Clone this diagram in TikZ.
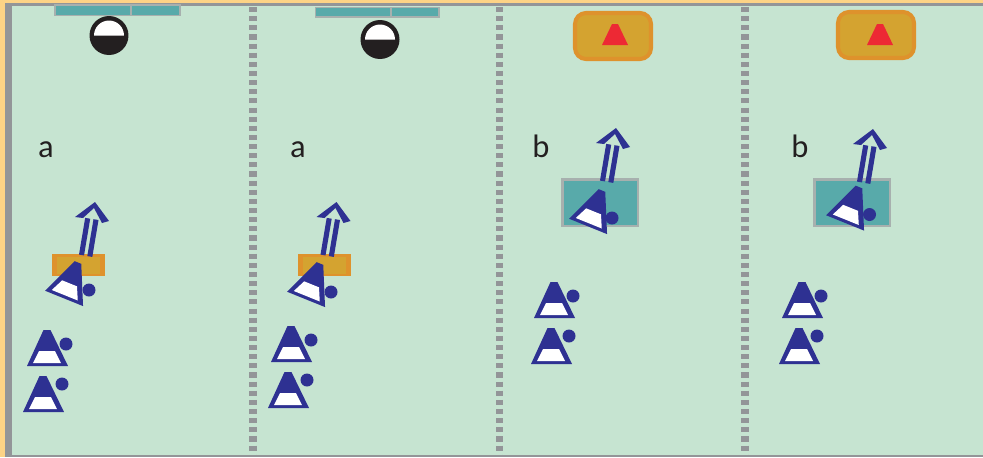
\documentclass[tikz,border=0pt]{standalone}
\usepackage{fontspec}
\setmainfont{Carlito}
\definecolor{court}{RGB}{198, 228, 209}
\definecolor{frameorange}{RGB}{253, 211, 134}
\definecolor{linegray}{RGB}{147, 149, 152}
\definecolor{boxgray}{RGB}{167, 176, 174}
\definecolor{teal}{RGB}{88, 170, 170}
\definecolor{navy}{RGB}{46, 49, 146}
\definecolor{mustard}{RGB}{212, 163, 48}
\definecolor{rust}{RGB}{222, 146, 44}
\definecolor{coneRed}{RGB}{237, 41, 52}
\definecolor{ballblack}{RGB}{35, 31, 32}
\tikzset{
    divider/.style={draw=linegray, line width=4.5pt, dash pattern=on 2.9pt off 2.3pt},
    tag/.style={font=\fontsize{18.5}{18.5}\selectfont, text=ballblack, inner sep=0pt, anchor=base},
    dot/.style={fill=navy},
    turned/.style={rotate=-22, yscale=1.07},
    tealbox/.style={fill=teal, draw=boxgray, line width=0.9pt},
    goldbox/.style={fill=mustard, draw=rust, line width=2.3pt, rounded corners=0.22cm},
    player/.pic={
        \fill[navy]  (-3.5, 0) -- (3.5, 0) -- (21, 36) -- (-20, 36) -- cycle;
        \fill[white] (-8, 21) -- (8, 21) -- (14, 33) -- (-14, 33) -- cycle;
    },
    advance/.pic={
        \draw[navy, line width=2.9pt] (-7.3, 16.3) -- (-13.5, 53);
        \draw[navy, line width=2.9pt] (1, 17.6)    -- (-5.2, 54.5);
        \fill[navy] (0, 0) -- (-20, 15) -- (-12, 16) -- (-1, 6) -- (7, 21) -- (14, 19) -- cycle;
    },
    ball/.pic={
        \fill[ballblack] (0, 0) circle (0.39cm);
        \fill[white]     (-15, 0) arc (180:0:0.3cm) -- cycle;
    },
    cone/.pic={
        \fill[coneRed] (-3, 0) -- (3, 0) -- (13, 21) -- (-13, 21) -- cycle;
    },
    pad/.pic={
        \fill[rust]    (0, 0) rectangle (53, 22);
        \fill[mustard] (5, 3) rectangle (48, 20);
    }
}
\begin{document}
\begin{tikzpicture}[x=0.02cm, y=-0.02cm]
    \useasboundingbox (0, 0) rectangle (983, 457);
    \fill[frameorange] (0, 0)   rectangle (983, 457);
    \fill[linegray]    (5, 3)   rectangle (983, 457);
    \fill[court]       (12, 6)  rectangle (983, 455);
    % dividers
    \draw[divider] (253, 7) -- (253, 455);
    \draw[divider] (499.5, 7) -- (499.5, 455);
    \draw[divider] (745, 7) -- (745, 455);
    % top of the panels
    \filldraw[tealbox] (55, 5) rectangle (131, 15.5);
    \filldraw[tealbox] (131, 5) rectangle (180, 15.5);
    \filldraw[tealbox] (315.5, 7.5) rectangle (391, 17);
    \filldraw[tealbox] (391, 7.5) rectangle (439, 17);
    \pic at (109, 35.5) {ball};
    \pic at (380, 39.5) {ball};
    \filldraw[goldbox] (575, 13) rectangle (651, 59);
    \filldraw[goldbox] (838, 12) rectangle (914, 58);
    \pic at (615, 24) {cone};
    \pic at (880, 24) {cone};
    % labels
    \node[tag] (tagA) at (46, 157.5) {a};
    \node[tag] (tagB) at (298, 157.5) {a};
    \node[tag] (tagC) at (541, 157.5) {b};
    \node[tag] (tagD) at (800, 157.5) {b};
    % boxes under the players
    \pic at (52, 254)  {pad};
    \pic at (297.5, 254) {pad};
    \filldraw[fill=teal, draw=boxgray, line width=1.6pt] (562.5, 179.5) rectangle (638, 226);
    \filldraw[fill=teal, draw=boxgray, line width=1.6pt] (814.5, 179.5) rectangle (890, 226);
    % arrows
    \pic at (95, 202)    {advance};
    \pic at (336.5, 202) {advance};
    \pic at (616, 128)   {advance};
    \pic at (873, 129)   {advance};
    % players with the ball carrier turned
    \pic[turned] at (78, 262.5)  {player};
    \pic[turned] at (320, 263.5) {player};
    \pic[turned] at (602, 190.5) {player};
    \pic[turned] at (859, 187)   {player};
    \pic at (47, 330)  {player};
    \pic at (43, 376)  {player};
    \pic at (291, 326) {player};
    \pic at (288, 372) {player};
    \pic at (554, 282) {player};
    \pic at (551, 328) {player};
    \pic at (802, 282) {player};
    \pic at (799, 328) {player};
    \fill[dot] (89, 290)  circle (0.13cm);
    \fill[dot] (66, 344)  circle (0.13cm);
    \fill[dot] (62, 384)  circle (0.13cm);
    \fill[dot] (331, 292) circle (0.13cm);
    \fill[dot] (311, 340) circle (0.13cm);
    \fill[dot] (307, 380) circle (0.13cm);
    \fill[dot] (612, 218) circle (0.13cm);
    \fill[dot] (573, 296) circle (0.13cm);
    \fill[dot] (569, 336) circle (0.13cm);
    \fill[dot] (869.5, 214.5) circle (0.13cm);
    \fill[dot] (821, 296) circle (0.13cm);
    \fill[dot] (817, 336) circle (0.13cm);
\end{tikzpicture}
\end{document}
